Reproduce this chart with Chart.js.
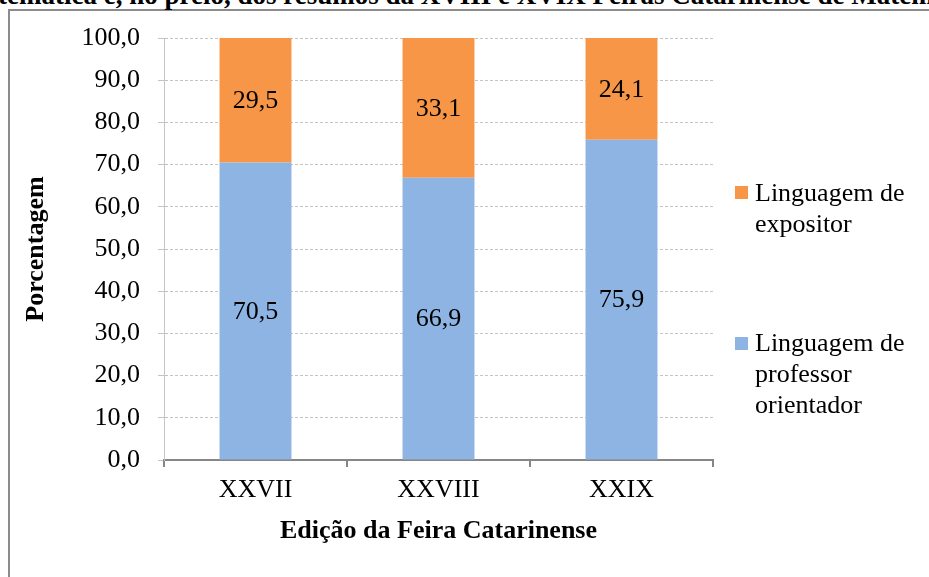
<!DOCTYPE html>
<html>
<head>
<meta charset="utf-8">
<script src="https://cdn.jsdelivr.net/npm/chart.js@4"></script>
<style>
  html, body { margin:0; padding:0; background:#fff; overflow:hidden; }
  #wrap { position:relative; width:929px; height:577px; overflow:hidden; }
  #frame { position:absolute; left:8px; top:9px; width:960px; height:620px;
           border-left:2px solid #8c8c8c; border-top:2px solid #8c8c8c; }
  #title { position:absolute; left:-2px; top:-18px; white-space:nowrap;
           font:bold 27px/27px "Liberation Serif","Times New Roman",serif; color:#000; }
  canvas { position:absolute; left:0; top:0; }
  .leg { position:absolute; font:26px/31px "Liberation Serif","Times New Roman",serif; color:#000; }
  .sw { position:absolute; width:13px; height:13px; }
</style>
</head>
<body>
<div id="wrap">
  <div id="frame"></div>
  <div id="title">temática e, no prelo, dos resumos da XVIII e XVIX Feiras Catarinense de Matemática</div>
  <canvas id="c" width="929" height="577"></canvas>
  <div class="sw" style="left:735px;top:186px;background:#f79646"></div>
  <div class="leg" style="left:755px;top:177px">Linguagem de<br>expositor</div>
  <div class="sw" style="left:735px;top:337px;background:#8eb4e3"></div>
  <div class="leg" style="left:755px;top:327px">Linguagem de<br>professor<br>orientador</div>
</div>
<script>
/* =========================
   Data
========================= */
const categories = ['XXVII', 'XXVIII', 'XXIX'];
const professor  = [70.5, 66.9, 75.9];   // Linguagem de professor orientador
const expositor  = [29.5, 33.1, 24.1];   // Linguagem de expositor
const yMin = 0, yMax = 100, yStep = 10;

const SERIF = '"Liberation Serif","Times New Roman",serif';
function fmt(v){ return v.toFixed(1).replace('.', ','); }

/* =========================
   Value labels in the middle of each segment
========================= */
const segLabels = {
  id: 'segLabels',
  afterDatasetsDraw(chart){
    const ctx = chart.ctx;
    ctx.save();
    ctx.font = '26px ' + SERIF;
    ctx.fillStyle = '#000';
    ctx.textAlign = 'center';
    ctx.textBaseline = 'middle';
    chart.data.datasets.forEach((ds, i)=>{
      chart.getDatasetMeta(i).data.forEach((bar, j)=>{
        ctx.fillText(fmt(ds.data[j]), bar.x, (bar.y + bar.base) / 2 + 1);
      });
    });
    ctx.restore();
  }
};

new Chart(document.getElementById('c'), {
  type: 'bar',
  data: {
    labels: categories,
    datasets: [
      { label: 'Linguagem de professor orientador', data: professor,
        backgroundColor: '#8eb4e3', barPercentage: 0.393, categoryPercentage: 1 },
      { label: 'Linguagem de expositor', data: expositor,
        backgroundColor: '#f79646', barPercentage: 0.393, categoryPercentage: 1 }
    ]
  },
  options: {
    responsive: false,
    animation: false,
    layout: { padding: { left: 0, top: 38, right: 216, bottom: 0 } },
    plugins: { legend: { display: false }, tooltip: { enabled: false } },
    scales: {
      x: {
        stacked: true,
        offset: true,
        afterFit(s){ s.height = 117; },
        grid: { offset: true, drawOnChartArea: false, drawTicks: true, tickLength: 7,
                color: '#868686', lineWidth: 2 },
        border: { color: '#868686', width: 2 },
        ticks: { color: '#000', font: { family: SERIF, size: 26 }, padding: 8 },
        title: { display: true, text: 'Edição da Feira Catarinense', color: '#000',
                 font: { family: SERIF, size: 26, weight: 'bold' },
                 padding: { top: 0, bottom: 30 } }
      },
      y: {
        stacked: true,
        min: yMin, max: yMax,
        afterFit(s){ s.width = 164; },
        grid: { color: '#c4c4c4', lineWidth: 1, tickLength: 6 },
        border: { color: '#c4c4c4', width: 1, dash: [3, 2] },
        ticks: { stepSize: yStep, color: '#000', padding: 18,
                 font: { family: SERIF, size: 26 },
                 callback: v => fmt(v) },
        title: { display: true, text: 'Porcentagem', color: '#000',
                 font: { family: SERIF, size: 26, weight: 'bold' },
                 padding: { top: 21, bottom: 0 } }
      }
    }
  },
  plugins: [segLabels]
});
</script>
</body>
</html>
